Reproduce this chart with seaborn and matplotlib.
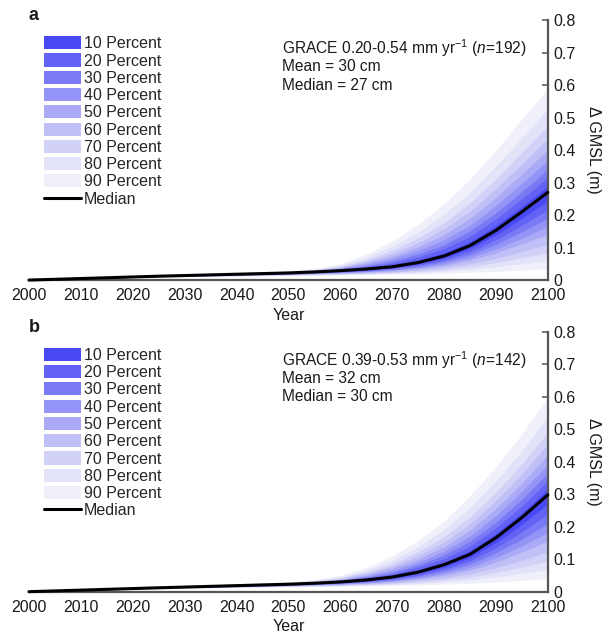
import numpy as np
import pandas as pd
import matplotlib
matplotlib.use("Agg")
import matplotlib.pyplot as plt
import seaborn as sns
from matplotlib.patches import Patch
from matplotlib.lines import Line2D

# ---------------------------------------------------------------------------
# Projected global mean sea-level contribution (m) by year
# ---------------------------------------------------------------------------
years = [2000, 2025, 2050, 2055, 2060, 2065, 2070, 2075, 2080, 2085, 2090,
         2095, 2100]

band_labels = ["10 Percent", "20 Percent", "30 Percent", "40 Percent",
               "50 Percent", "60 Percent", "70 Percent", "80 Percent",
               "90 Percent"]
band_colors = ["#4848f5", "#6262f5", "#7a7af5", "#9494f6", "#aaaaf6",
               "#c0c0f7", "#d2d2f8", "#e2e2f9", "#f0f0fb"]

# Panel a: GRACE 0.20-0.54 mm/yr
a_median = [0, 0.012, 0.022, 0.025, 0.029, 0.034, 0.041, 0.054, 0.074, 0.106,
            0.153, 0.210, 0.270]
# lower bounds of the central 10 %, 20 %, ... 90 % intervals
a_lower = [
    [0, 0.012, 0.021, 0.024, 0.028, 0.032, 0.039, 0.050, 0.068, 0.097, 0.139, 0.190, 0.244],
    [0, 0.012, 0.020, 0.023, 0.026, 0.030, 0.036, 0.046, 0.062, 0.087, 0.124, 0.169, 0.216],
    [0, 0.011, 0.019, 0.022, 0.025, 0.028, 0.033, 0.042, 0.056, 0.078, 0.110, 0.149, 0.190],
    [0, 0.011, 0.018, 0.021, 0.023, 0.026, 0.031, 0.038, 0.050, 0.069, 0.096, 0.129, 0.164],
    [0, 0.011, 0.018, 0.020, 0.022, 0.025, 0.028, 0.035, 0.045, 0.061, 0.084, 0.112, 0.141],
    [0, 0.011, 0.017, 0.018, 0.020, 0.022, 0.025, 0.030, 0.038, 0.050, 0.067, 0.088, 0.110],
    [0, 0.010, 0.016, 0.017, 0.019, 0.021, 0.023, 0.026, 0.032, 0.041, 0.054, 0.069, 0.084],
    [0, 0.010, 0.015, 0.016, 0.017, 0.019, 0.021, 0.023, 0.027, 0.033, 0.041, 0.051, 0.061],
    [0, 0.010, 0.014, 0.015, 0.016, 0.017, 0.018, 0.019, 0.021, 0.024, 0.027, 0.031, 0.035],
]
# upper bounds of the central 10 %, 20 %, ... 90 % intervals
a_upper = [
    [0, 0.012, 0.022, 0.026, 0.030, 0.037, 0.046, 0.061, 0.084, 0.118, 0.168, 0.227, 0.289],
    [0, 0.012, 0.023, 0.027, 0.032, 0.040, 0.052, 0.071, 0.097, 0.135, 0.188, 0.250, 0.315],
    [0, 0.012, 0.024, 0.027, 0.034, 0.044, 0.058, 0.080, 0.109, 0.151, 0.207, 0.273, 0.340],
    [0, 0.013, 0.024, 0.028, 0.036, 0.048, 0.066, 0.091, 0.124, 0.169, 0.230, 0.298, 0.369],
    [0, 0.013, 0.025, 0.030, 0.038, 0.053, 0.073, 0.102, 0.140, 0.190, 0.254, 0.327, 0.401],
    [0, 0.013, 0.026, 0.031, 0.040, 0.058, 0.082, 0.115, 0.158, 0.212, 0.281, 0.358, 0.436],
    [0, 0.013, 0.026, 0.032, 0.042, 0.063, 0.092, 0.130, 0.177, 0.237, 0.311, 0.392, 0.475],
    [0, 0.014, 0.028, 0.034, 0.046, 0.071, 0.104, 0.148, 0.203, 0.269, 0.351, 0.438, 0.526],
    [0, 0.014, 0.029, 0.036, 0.050, 0.080, 0.120, 0.172, 0.235, 0.310, 0.400, 0.495, 0.590],
]
a_lines = [r"GRACE 0.20-0.54 mm yr$^{-1}$ ($\mathit{n}$=192)",
           "Mean = 30 cm", "Median = 27 cm"]

# Panel b: GRACE 0.39-0.53 mm/yr
b_median = [0, 0.012, 0.023, 0.026, 0.030, 0.036, 0.045, 0.060, 0.083, 0.115,
            0.166, 0.228, 0.298]
b_lower = [
    [0, 0.012, 0.022, 0.025, 0.029, 0.034, 0.042, 0.056, 0.076, 0.105, 0.151, 0.207, 0.270],
    [0, 0.012, 0.021, 0.024, 0.027, 0.032, 0.039, 0.051, 0.069, 0.095, 0.135, 0.184, 0.239],
    [0, 0.011, 0.020, 0.023, 0.026, 0.030, 0.036, 0.047, 0.063, 0.085, 0.120, 0.162, 0.210],
    [0, 0.011, 0.019, 0.022, 0.024, 0.028, 0.033, 0.042, 0.056, 0.075, 0.105, 0.141, 0.182],
    [0, 0.011, 0.019, 0.021, 0.023, 0.026, 0.031, 0.039, 0.050, 0.066, 0.091, 0.122, 0.156],
    [0, 0.011, 0.018, 0.019, 0.021, 0.024, 0.027, 0.034, 0.042, 0.055, 0.074, 0.097, 0.123],
    [0, 0.010, 0.017, 0.018, 0.020, 0.022, 0.025, 0.029, 0.036, 0.045, 0.059, 0.076, 0.094],
    [0, 0.010, 0.016, 0.017, 0.018, 0.020, 0.022, 0.025, 0.030, 0.036, 0.045, 0.056, 0.068],
    [0, 0.010, 0.015, 0.016, 0.017, 0.018, 0.019, 0.021, 0.023, 0.026, 0.030, 0.035, 0.040],
]
b_upper = [
    [0, 0.012, 0.023, 0.027, 0.031, 0.038, 0.049, 0.066, 0.091, 0.126, 0.179, 0.243, 0.316],
    [0, 0.012, 0.024, 0.028, 0.033, 0.042, 0.054, 0.074, 0.102, 0.140, 0.197, 0.264, 0.340],
    [0, 0.012, 0.025, 0.028, 0.034, 0.045, 0.059, 0.082, 0.113, 0.155, 0.214, 0.285, 0.364],
    [0, 0.013, 0.025, 0.029, 0.036, 0.048, 0.065, 0.090, 0.125, 0.171, 0.234, 0.308, 0.392],
    [0, 0.013, 0.026, 0.031, 0.038, 0.052, 0.072, 0.100, 0.138, 0.189, 0.256, 0.333, 0.422],
    [0, 0.013, 0.027, 0.032, 0.040, 0.056, 0.079, 0.111, 0.153, 0.209, 0.280, 0.362, 0.455],
    [0, 0.013, 0.027, 0.033, 0.043, 0.061, 0.087, 0.123, 0.169, 0.230, 0.306, 0.393, 0.491],
    [0, 0.014, 0.029, 0.035, 0.046, 0.067, 0.097, 0.138, 0.191, 0.259, 0.341, 0.434, 0.540],
    [0, 0.014, 0.030, 0.037, 0.050, 0.075, 0.110, 0.158, 0.218, 0.295, 0.385, 0.485, 0.600],
]
b_lines = [r"GRACE 0.39-0.53 mm yr$^{-1}$ ($\mathit{n}$=142)",
           "Mean = 32 cm", "Median = 30 cm"]

x_ticks = list(range(2000, 2101, 10))
y_ticks = [0, 0.1, 0.2, 0.3, 0.4, 0.5, 0.6, 0.7, 0.8]
y_ticklabels = ["0", "0.1", "0.2", "0.3", "0.4", "0.5", "0.6", "0.7", "0.8"]

# ---------------------------------------------------------------------------
sns.set_style("white")
plt.rcParams["font.family"] = ["Liberation Sans", "DejaVu Sans"]
plt.rcParams["mathtext.fontset"] = "custom"
plt.rcParams["mathtext.rm"] = "Liberation Sans"
plt.rcParams["mathtext.it"] = "Liberation Sans:italic"

TEXT = "#1a1a1a"
SPINE = "#555555"
FS = 11.5

fig = plt.figure(figsize=(6.04, 6.38), dpi=100)
ax_a = fig.add_axes([0.048, 0.561, 0.859, 0.4075])
ax_b = fig.add_axes([0.048, 0.0726, 0.859, 0.4075])


def draw_panel(ax, median, lower, upper, lines, letter):
    df = pd.DataFrame({"Year": years, "GMSL": median})
    # widest interval first so the narrower, darker ones sit on top
    for lo, hi, col in reversed(list(zip(lower, upper, band_colors))):
        ax.fill_between(years, lo, hi, color=col, linewidth=0)
    sns.lineplot(data=df, x="Year", y="GMSL", ax=ax, color="black",
                 linewidth=2.2, clip_on=False, zorder=5)

    ax.set_xlim(2000, 2100)
    ax.set_ylim(0, 0.8)
    ax.set_xticks(x_ticks)
    ax.set_yticks(y_ticks)
    ax.set_yticklabels(y_ticklabels)
    ax.yaxis.tick_right()
    ax.yaxis.set_label_position("right")
    ax.tick_params(axis="both", direction="in", length=4, width=1.1,
                   color=SPINE, labelsize=FS, labelcolor=TEXT)
    ax.tick_params(axis="x", pad=6)
    ax.tick_params(axis="y", pad=4)
    for side in ("left", "top"):
        ax.spines[side].set_visible(False)
    for side in ("right", "bottom"):
        ax.spines[side].set_color(SPINE)
        ax.spines[side].set_linewidth(1.6)
    ax.set_xlabel("Year", fontsize=FS, color=TEXT, labelpad=3)
    ax.set_ylabel("\u0394 GMSL (m)", fontsize=FS, color=TEXT,
                  rotation=-90, labelpad=18)

    handles = [Patch(facecolor=c, edgecolor="none") for c in band_colors]
    handles.append(Line2D([], [], color="black", linewidth=2.2))
    ax.legend(handles, band_labels + ["Median"], loc="upper left",
              bbox_to_anchor=(0.029, 0.938), frameon=False, fontsize=FS,
              handlelength=2.3, handleheight=0.88, handletextpad=0.2,
              labelspacing=0.14, borderpad=0, borderaxespad=0)

    for line, y in zip(lines, (0.892, 0.820, 0.750)):
        ax.text(0.4875, y, line, transform=ax.transAxes, fontsize=11.2,
                color=TEXT, va="center", ha="left")
    ax.text(0.0, 1.0, letter, transform=ax.transAxes, fontsize=13,
            fontweight="bold", color=TEXT, va="baseline", ha="left")


draw_panel(ax_a, a_median, a_lower, a_upper, a_lines, "a")
draw_panel(ax_b, b_median, b_lower, b_upper, b_lines, "b")

fig.savefig("out.png", dpi=100, facecolor="white")
